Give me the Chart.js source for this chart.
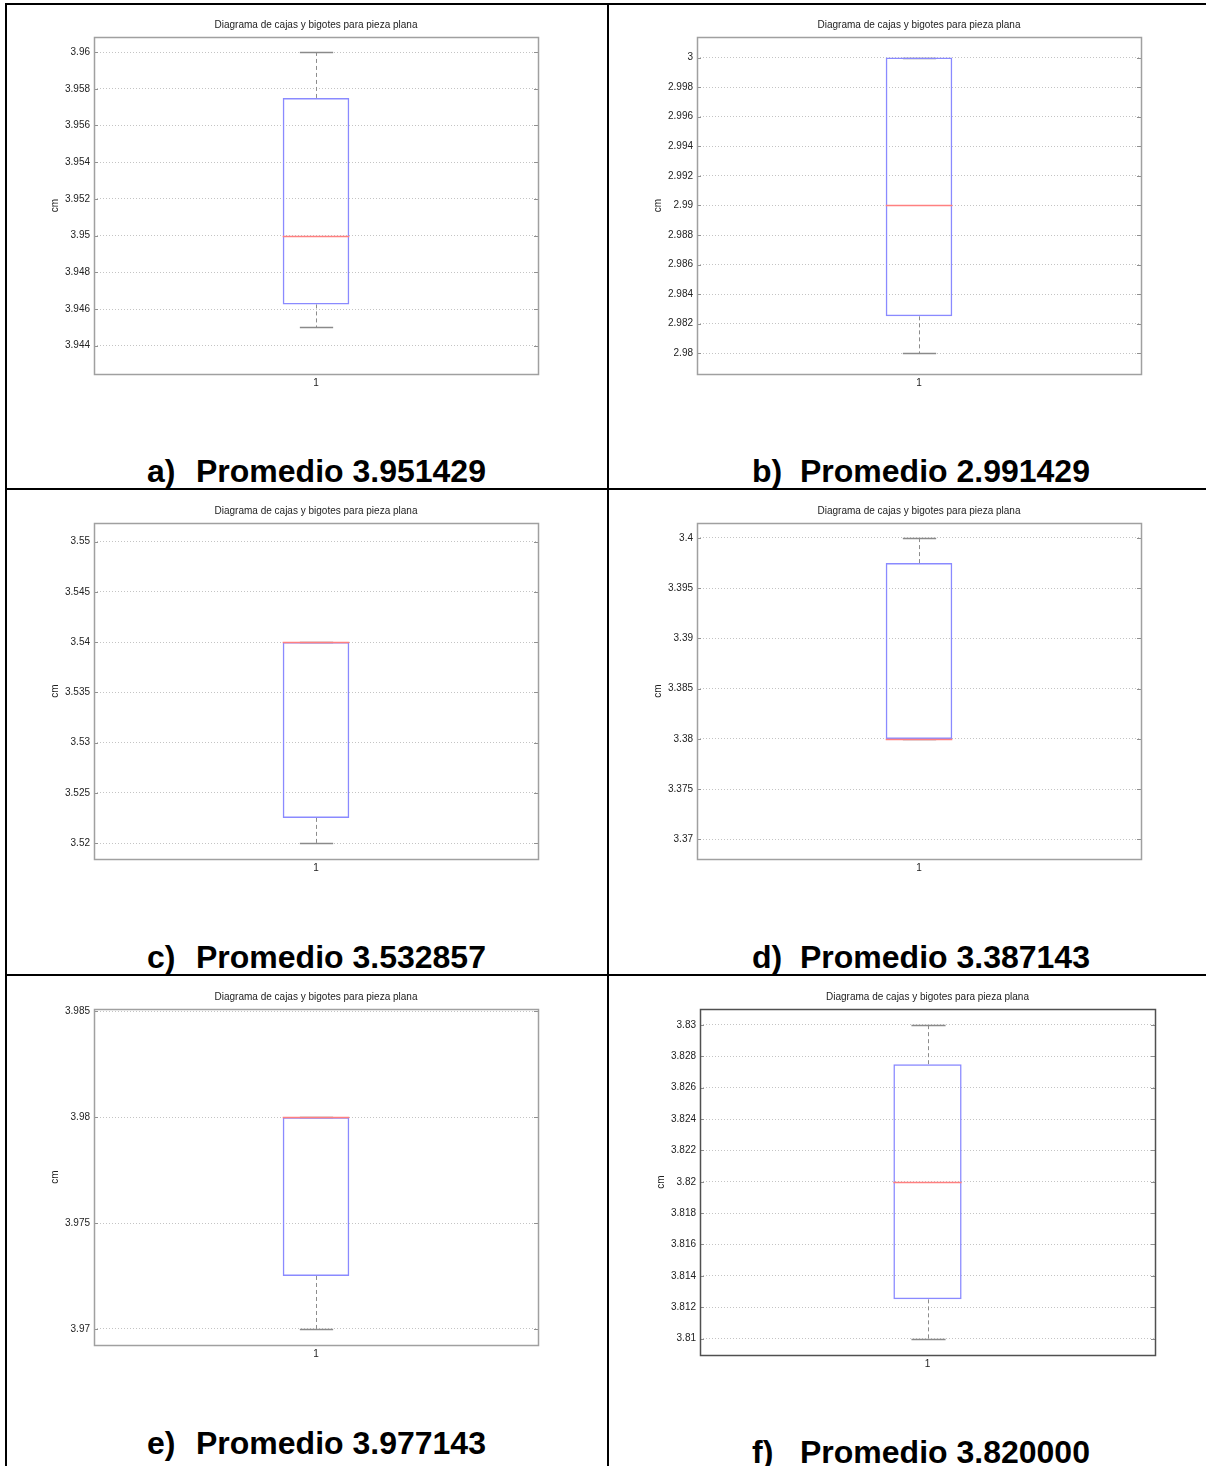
<!DOCTYPE html>
<html lang="es">
<head>
<meta charset="utf-8">
<title>Diagramas de cajas y bigotes para pieza plana</title>
<script src="https://cdn.jsdelivr.net/npm/chart.js@4.4.1/dist/chart.umd.min.js"></script>
<style>
    body { margin: 0; background: #fff; }
    #pagina { position: relative; width: 1206px; height: 1466px; overflow: hidden; background: #fff;
              font-family: "Liberation Sans", Arial, Helvetica, sans-serif; }
    .linea { position: absolute; background: #000; }
    #pagina canvas { position: absolute; }
    .pie { position: absolute; font-weight: bold; font-size: 32px; line-height: 32px; color: #000; white-space: nowrap; }
</style>
</head>
<body>
<div id="pagina">
    <!-- bordes de la tabla -->
    <div class="linea" style="left:5px; top:3px; width:1201px; height:2px;"></div>
    <div class="linea" style="left:5px; top:3px; width:2px; height:1463px;"></div>
    <div class="linea" style="left:607px; top:3px; width:2px; height:1463px;"></div>
    <div class="linea" style="left:5px; top:488px; width:1201px; height:2px;"></div>
    <div class="linea" style="left:5px; top:974px; width:1201px; height:2px;"></div>
</div>
<script>
const letras    = ['a)', 'b)', 'c)', 'd)', 'e)', 'f)'];
const promedios = ['3.951429', '2.991429', '3.532857', '3.387143', '3.977143', '3.820000'];
const categorias = ['1'];

const minimos  = [3.945,   2.98,   3.52,   3.38,   3.97,   3.81];
const q1       = [3.94625, 2.9825, 3.5225, 3.38,   3.9725, 3.8125];
const medianas = [3.95,    2.99,   3.54,   3.38,   3.98,   3.82];
const q3       = [3.9575,  3.0,    3.54,   3.3975, 3.98,   3.8275];
const maximos  = [3.96,    3.0,    3.54,   3.4,    3.98,   3.83];

// límites del eje y
const ejeMin = [3.94246, 2.97860, 3.51841, 3.36805, 3.96924, 3.80895];
const ejeMax = [3.96082, 3.00139, 3.55185, 3.40149, 3.98511, 3.83102];

// etiquetas de las marcas del eje y
const marcasA = ['3.944', '3.946', '3.948', '3.95', '3.952', '3.954', '3.956', '3.958', '3.96'];
const marcasB = ['2.98', '2.982', '2.984', '2.986', '2.988', '2.99', '2.992', '2.994', '2.996', '2.998', '3'];
const marcasC = ['3.52', '3.525', '3.53', '3.535', '3.54', '3.545', '3.55'];
const marcasD = ['3.37', '3.375', '3.38', '3.385', '3.39', '3.395', '3.4'];
const marcasE = ['3.97', '3.975', '3.98', '3.985'];
const marcasF = ['3.81', '3.812', '3.814', '3.816', '3.818', '3.82', '3.822', '3.824', '3.826', '3.828', '3.83'];
const marcas = [marcasA, marcasB, marcasC, marcasD, marcasE, marcasF];

// --- Posición de cada área de trazado y de cada pie (px en la página) ---
const celdas = [
    { izq: 94,  der: 538,  arr: 37,   aba: 374,  letraX: 147, promX: 196, base: 482 },
    { izq: 697, der: 1141, arr: 37,   aba: 374,  letraX: 752, promX: 800, base: 482 },
    { izq: 94,  der: 538,  arr: 523,  aba: 859,  letraX: 147, promX: 196, base: 968 },
    { izq: 697, der: 1141, arr: 523,  aba: 859,  letraX: 752, promX: 800, base: 968 },
    { izq: 94,  der: 538,  arr: 1009, aba: 1345, letraX: 147, promX: 196, base: 1454 },
    { izq: 700, der: 1155, arr: 1009, aba: 1355, letraX: 752, promX: 800, base: 1463 }
];
const marcoColor = ['#a0a0a0', '#a0a0a0', '#a0a0a0', '#a0a0a0', '#a0a0a0', '#505050'];

const ANCHO_Y = 54, ALTO_TITULO = 23, ALTO_X = 20, MARGEN_DER = 12;

Chart.defaults.font.family = '"Liberation Sans", Arial, Helvetica, sans-serif';
Chart.defaults.font.size = 10;
Chart.defaults.color = '#222';

// bigotes, mediana y marco al estilo de MATLAB
const bigotesPlugin = {
    id: 'bigotes',
    beforeDatasetsDraw(chart, args, opts) {
        const i = opts.indice;
        const y = chart.scales.y;
        const barra = chart.getDatasetMeta(0).data[0];
        const xc = Math.round(barra.x) + 0.5;
        const tope = barra.width / 4;
        const ctx = chart.ctx;
        ctx.save();
        ctx.strokeStyle = '#8c8c8c';
        ctx.lineWidth = 1;
        ctx.setLineDash([4, 3]);
        ctx.beginPath();
        ctx.moveTo(xc, y.getPixelForValue(q3[i]));
        ctx.lineTo(xc, y.getPixelForValue(maximos[i]));
        ctx.moveTo(xc, y.getPixelForValue(q1[i]));
        ctx.lineTo(xc, y.getPixelForValue(minimos[i]));
        ctx.stroke();
        ctx.setLineDash([]);
        ctx.strokeStyle = '#8a8a8a';
        ctx.lineWidth = 1.5;
        ctx.beginPath();
        [maximos[i], minimos[i]].forEach(v => {
            const py = Math.round(y.getPixelForValue(v)) + 0.5;
            ctx.moveTo(xc - tope, py);
            ctx.lineTo(xc + tope, py);
        });
        ctx.stroke();
        ctx.restore();
    },
    afterDatasetsDraw(chart, args, opts) {
        const i = opts.indice;
        const y = chart.scales.y;
        const area = chart.chartArea;
        const barra = chart.getDatasetMeta(0).data[0];
        const ctx = chart.ctx;
        ctx.save();
        // mediana
        const pm = Math.round(y.getPixelForValue(medianas[i])) + 0.5;
        ctx.strokeStyle = '#ff8080';
        ctx.lineWidth = 1.5;
        ctx.beginPath();
        ctx.moveTo(barra.x - barra.width / 2, pm);
        ctx.lineTo(barra.x + barra.width / 2, pm);
        ctx.stroke();
        // marcas hacia dentro
        ctx.strokeStyle = '#909090';
        ctx.lineWidth = 1;
        ctx.beginPath();
        y.ticks.forEach(t => {
            const py = Math.round(y.getPixelForValue(t.value)) + 0.5;
            ctx.moveTo(area.left, py);
            ctx.lineTo(area.left + 4, py);
            ctx.moveTo(area.right - 4, py);
            ctx.lineTo(area.right, py);
        });
        ctx.stroke();
        // marco
        ctx.strokeStyle = opts.marco;
        ctx.lineWidth = 1.5;
        ctx.strokeRect(Math.round(area.left) + 0.5, Math.round(area.top) + 0.5,
                       Math.round(area.right - area.left), Math.round(area.bottom - area.top));
        ctx.restore();
    }
};

function crearDiagrama(i) {
    const c = celdas[i];
    const pagina = document.getElementById('pagina');

    const canvas = document.createElement('canvas');
    const ancho = (c.der - c.izq) + ANCHO_Y + MARGEN_DER;
    const alto = (c.aba - c.arr) + ALTO_TITULO + ALTO_X;
    canvas.width = ancho;
    canvas.height = alto;
    canvas.style.left = (c.izq - ANCHO_Y) + 'px';
    canvas.style.top = (c.arr - ALTO_TITULO) + 'px';
    canvas.style.width = ancho + 'px';
    canvas.style.height = alto + 'px';
    pagina.appendChild(canvas);

    new Chart(canvas, {
        type: 'bar',
        data: {
            labels: categorias,
            datasets: [{
                data: [[q1[i], q3[i]]],
                backgroundColor: 'rgba(0,0,0,0)',
                borderColor: '#8a8aff',
                borderWidth: 1.5,
                borderSkipped: false,
                barPercentage: 0.15,
                categoryPercentage: 1
            }]
        },
        options: {
            responsive: false,
            animation: false,
            events: [],
            layout: { padding: { left: 0, right: MARGEN_DER, top: 0, bottom: 0 } },
            plugins: {
                legend: { display: false },
                tooltip: { enabled: false },
                title: {
                    display: true,
                    text: 'Diagrama de cajas y bigotes para pieza plana',
                    fullSize: false,
                    color: '#222',
                    font: { size: 10, weight: 'normal' },
                    padding: { top: 5, bottom: 6 }
                },
                bigotes: { indice: i, marco: marcoColor[i] }
            },
            scales: {
                x: {
                    grid: { display: false, drawTicks: false },
                    border: { display: false },
                    ticks: { padding: 3 },
                    afterFit: eje => { eje.height = ALTO_X; }
                },
                y: {
                    min: ejeMin[i],
                    max: ejeMax[i],
                    afterBuildTicks: eje => {
                        eje.ticks = marcas[i].map(t => ({ value: parseFloat(t) }));
                    },
                    ticks: {
                        autoSkip: false,
                        padding: 4,
                        callback: (valor, k) => marcas[i][k]
                    },
                    grid: { color: '#c4c4c4', lineWidth: 1, drawTicks: false },
                    border: { display: false, dash: [1, 2] },
                    title: {
                        display: true,
                        text: 'cm',
                        color: '#222',
                        font: { size: 10 },
                        padding: { top: 9, bottom: 0 }
                    },
                    afterFit: eje => { eje.width = ANCHO_Y; }
                }
            }
        },
        plugins: [bigotesPlugin]
    });

    // pie de figura: "a)  Promedio 3.951429"
    const letra = document.createElement('div');
    letra.className = 'pie';
    letra.textContent = letras[i];
    letra.style.left = c.letraX + 'px';
    letra.style.top = (c.base - 27) + 'px';
    pagina.appendChild(letra);

    const prom = document.createElement('div');
    prom.className = 'pie';
    prom.textContent = 'Promedio ' + promedios[i];
    prom.style.left = c.promX + 'px';
    prom.style.top = (c.base - 27) + 'px';
    pagina.appendChild(prom);
}

letras.forEach((l, i) => crearDiagrama(i));
</script>
</body>
</html>
